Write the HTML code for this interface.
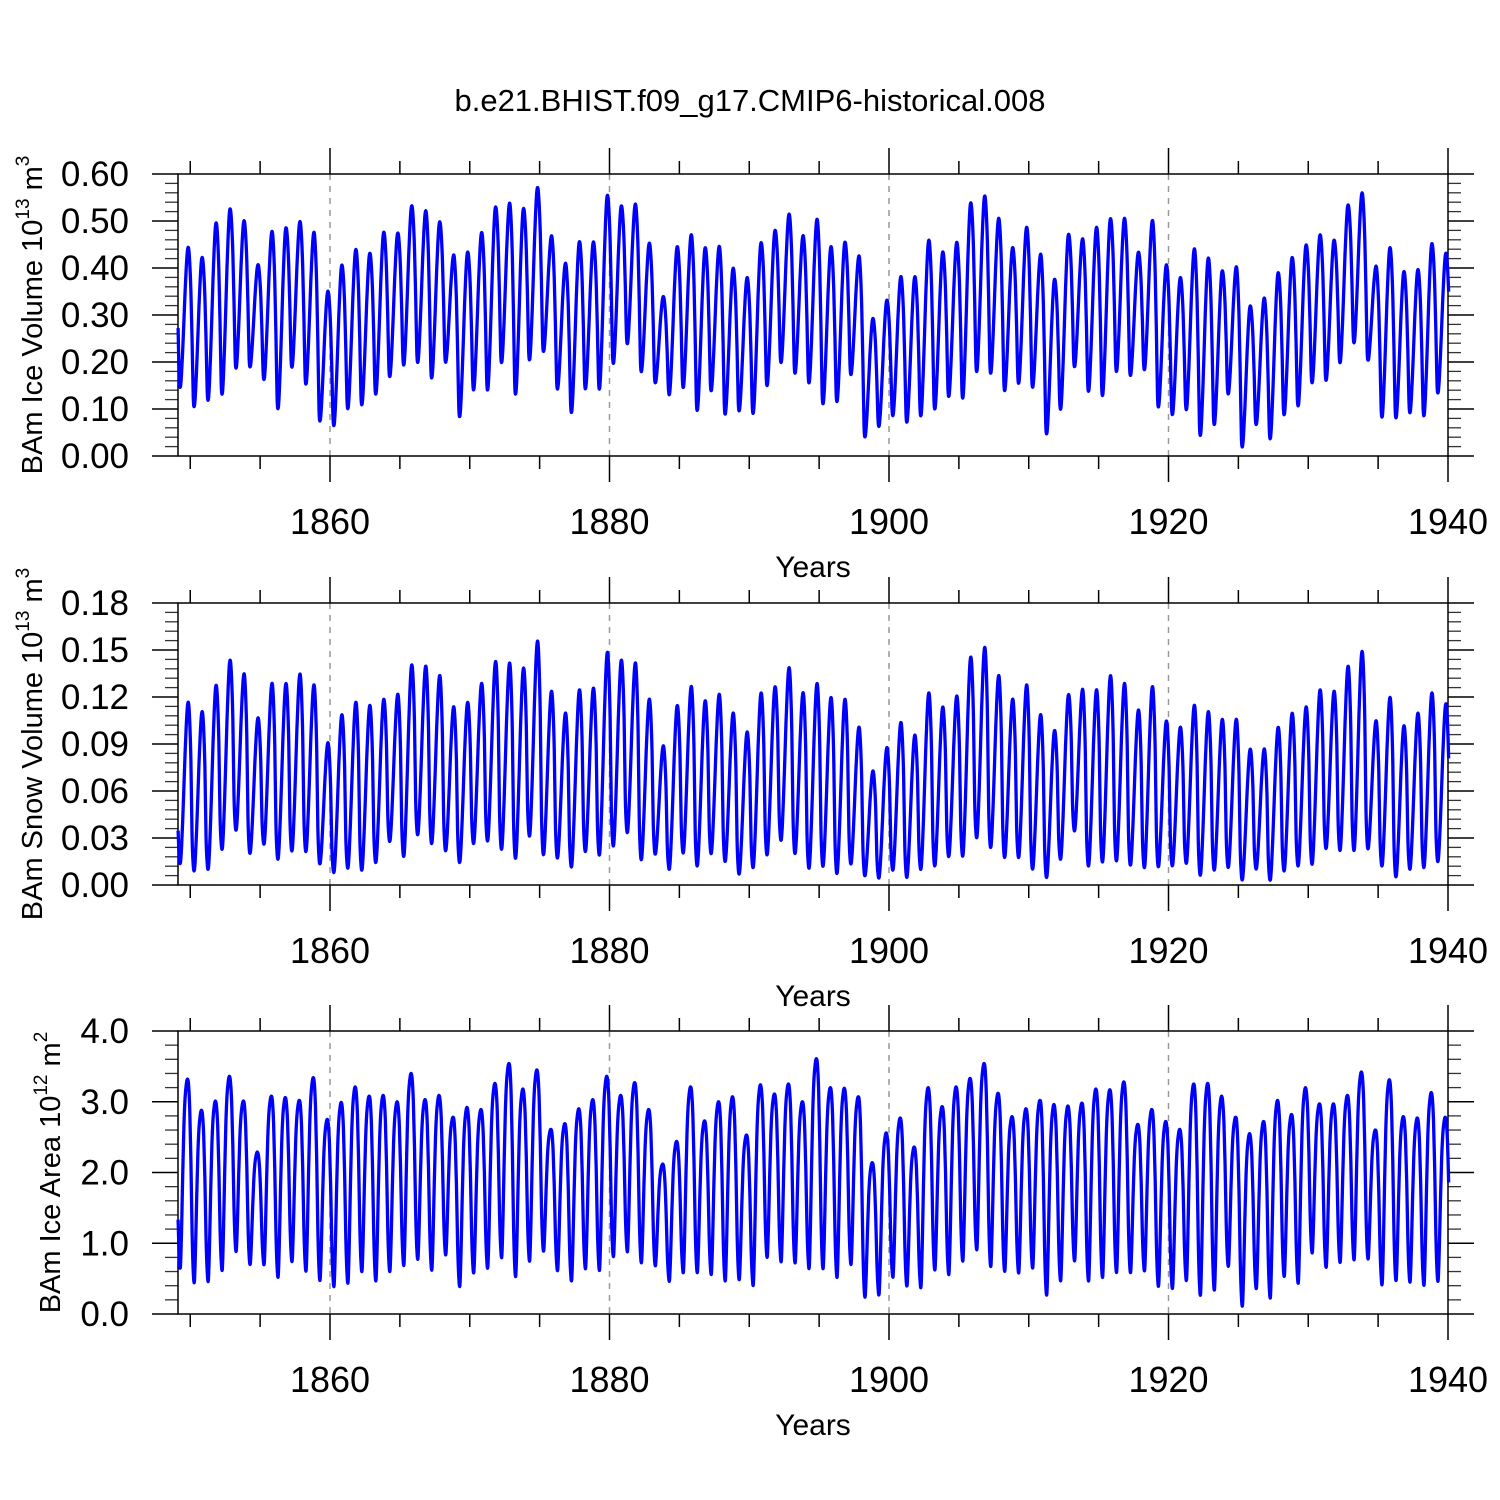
<!DOCTYPE html>
<html><head><meta charset="utf-8"><style>
html,body{margin:0;padding:0;background:#fff;}
svg{display:block;font-family:"Liberation Sans",sans-serif;}
</style></head><body>
<svg id="chart" width="1500" height="1500" viewBox="0 0 1500 1500">
<text x="750" y="111" font-size="31" text-anchor="middle">b.e21.BHIST.f09_g17.CMIP6-historical.008</text>
</svg>
<script>
// Years 1850..1940 (91 years)
const firstYear = 1850;
const xTickYears = [1860, 1880, 1900, 1920, 1940];
const xTickLabels = ["1860", "1880", "1900", "1920", "1940"];

// Panel 1: BAm Ice Volume (10^13 m^3) annual minima / maxima
const volMin = [.147,.106,.12,.133,.188,.19,.164,.102,.19,.154,.075,.066,.102,.11,.133,.17,.195,.2,.167,.2,.085,.142,.142,.2,.133,.206,.223,.143,.094,.144,.144,
.198,.24,.18,.156,.132,.147,.098,.14,.09,.097,.092,.151,.2,.177,.157,.112,.117,.174,.041,.064,.087,.073,.087,.101,.128,.125,.181,.177,.14,.156,
.147,.048,.101,.191,.139,.13,.181,.172,.185,.105,.089,.1,.045,.068,.133,.02,.068,.038,.089,.108,.157,.162,.2,.242,.204,.084,.082,.093,.087,.135];
const volMax = [.445,.424,.498,.528,.502,.408,.479,.488,.5,.477,.352,.408,.441,.433,.478,.476,.534,.523,.5,.428,.436,.477,.532,.539,.529,.573,.469,.411,.458,.457,.557,
.534,.537,.454,.34,.447,.472,.445,.447,.401,.381,.456,.482,.516,.47,.505,.447,.457,.426,.294,.333,.383,.383,.461,.436,.456,.541,.555,.507,.445,.488,
.43,.378,.474,.463,.488,.507,.507,.435,.502,.408,.381,.442,.423,.396,.403,.321,.337,.392,.424,.451,.472,.461,.536,.561,.404,.445,.394,.398,.454,.433];
const volTicks = [0, 0.1, 0.2, 0.3, 0.4, 0.5, 0.6];
const volTickLabels = ["0.00","0.10","0.20","0.30","0.40","0.50","0.60"];

// Panel 2: BAm Snow Volume (10^13 m^3), values in units of 0.01
const snowMin = [1.42,.95,1.06,2.34,3.55,2.06,2.66,1.7,2.23,2.19,1.38,.85,1.13,1.0,1.49,2.83,1.89,3.26,2.7,2.23,1.49,2.7,2.87,2.34,1.77,3.19,1.98,1.77,1.21,2.19,1.98,
2.55,3.4,1.66,2.0,1.06,2.1,1.27,2.06,1.55,.74,1.17,1.98,2.91,2.06,1.13,1.25,.79,1.38,.62,.49,1.0,.53,1.06,1.27,1.87,1.91,3.08,2.45,1.81,1.81,
1.06,.53,1.7,3.5,1.27,1.53,1.6,1.32,1.17,1.21,1.27,1.44,.68,1.0,1.17,.36,1.06,.36,.95,1.27,1.38,2.38,2.27,2.27,2.34,1.27,.57,1.06,1.17,1.55];
const snowMax = [11.7,11.1,12.8,14.4,13.5,10.7,12.9,12.9,13.5,12.8,9.1,10.9,11.7,11.5,11.9,12.2,14.1,14.0,13.4,11.4,11.7,12.9,14.3,14.2,13.9,15.6,12.4,11.0,12.5,12.6,14.9,
14.4,14.2,11.9,8.9,11.5,12.7,11.8,12.2,11.0,9.8,12.3,12.7,13.9,12.3,12.9,12.0,11.9,10.1,7.3,8.8,10.4,9.6,12.3,11.4,12.1,14.6,15.2,13.4,11.9,12.8,
10.9,9.9,12.2,12.5,12.5,13.4,12.9,11.2,12.7,10.5,10.1,11.5,11.1,10.6,10.6,8.7,8.7,10.1,11.0,11.4,12.5,12.4,14.0,14.95,10.5,12.0,10.2,11.0,12.3,11.6];
const snowTicks = [0, 0.03, 0.06, 0.09, 0.12, 0.15, 0.18];
const snowTickLabels = ["0.00","0.03","0.06","0.09","0.12","0.15","0.18"];

// Panel 3: BAm Ice Area (10^12 m^2)
const areaMin = [.67,.46,.48,.64,.9,.71,.72,.54,.76,.63,.49,.41,.46,.62,.49,.62,.71,.79,.64,.85,.41,.6,.67,.82,.55,.77,.9,.63,.49,.66,.64,
.83,.9,.74,.69,.48,.61,.6,.58,.49,.5,.43,.82,.76,.74,.67,.66,.54,.72,.25,.29,.54,.41,.4,.64,.58,.77,.93,.69,.62,.6,
.67,.29,.49,.77,.49,.54,.61,.6,.63,.41,.38,.5,.29,.36,.69,.13,.38,.25,.55,.46,.88,.68,.75,.79,.79,.44,.49,.47,.43,.48];
const areaMax = [3.32,2.88,3.01,3.36,3.01,2.29,3.08,3.06,3.02,3.34,2.75,2.99,3.21,3.08,3.09,3.0,3.4,3.03,3.09,2.78,2.92,2.89,3.26,3.54,3.18,3.45,2.61,2.69,2.9,3.03,3.36,
3.09,3.27,2.89,2.12,2.44,3.21,2.73,3.0,3.07,2.53,3.24,3.11,3.25,3.0,3.61,3.2,3.19,3.07,2.14,2.56,2.77,2.36,3.2,2.93,3.21,3.33,3.54,3.12,2.79,2.9,
3.02,2.96,2.94,2.98,3.18,3.17,3.28,2.68,2.89,2.72,2.61,3.25,3.26,3.08,2.78,2.55,2.72,3.02,2.82,3.2,2.97,2.97,3.09,3.42,2.6,3.31,2.79,2.77,3.13,2.78];
const areaTicks = [0, 1, 2, 3, 4];
const areaTickLabels = ["0.0","1.0","2.0","3.0","4.0"];

const NS = "http://www.w3.org/2000/svg";
const svg = document.getElementById("chart");
const FL = 178, FR = 1448;
function xScale(t){ return 330 + (t - 1860) * (FR - 330) / 80; }
function mk(tag, attrs, parent){
  const e = document.createElementNS(NS, tag);
  for (const k in attrs) e.setAttribute(k, attrs[k]);
  (parent || svg).appendChild(e);
  return e;
}
// seasonal shape fractions (shape only, not data)
const shapeVol = [0.42,0.06,0.0,0.1,0.27,0.47,0.68,0.85,0.97,0.99,0.9,0.72];
const shapeSnow = [0.2,0.03,0.0,0.1,0.27,0.47,0.68,0.85,0.97,0.99,0.88,0.65];
const shapeArea = [0.25,0.05,0.0,0.2,0.5,0.75,0.9,0.97,1.0,0.97,0.85,0.6];

function monthly(mins, maxs, shape){
  const pts = [];
  for (let i = 0; i < mins.length; i++){
    const mn = mins[i], mx = maxs[i];
    const pmx = i > 0 ? maxs[i-1] : mx;
    const nmn = i < mins.length - 1 ? mins[i+1] : mn;
    for (let m = 0; m < 12; m++){
      let v;
      if (m < 2) v = mn + shape[m] * (pmx - mn);
      else if (m < 10) v = mn + shape[m] * (mx - mn);
      else v = nmn + shape[m] * (mx - nmn);
      pts.push([firstYear + i - 0.87 + m / 12, v]);
    }
  }
  return pts;
}
function smoothPath(p){
  let d = "M" + p[0][0].toFixed(2) + "," + p[0][1].toFixed(2);
  for (let i = 0; i < p.length - 1; i++){
    const p0 = p[Math.max(0,i-1)], p1 = p[i], p2 = p[i+1], p3 = p[Math.min(p.length-1,i+2)];
    const c1x = p1[0] + (p2[0]-p0[0])/6, c1y = p1[1] + (p2[1]-p0[1])/6;
    const c2x = p2[0] - (p3[0]-p1[0])/6, c2y = p2[1] - (p3[1]-p1[1])/6;
    d += "C" + c1x.toFixed(2)+","+c1y.toFixed(2)+" "+c2x.toFixed(2)+","+c2y.toFixed(2)+" "+p2[0].toFixed(2)+","+p2[1].toFixed(2);
  }
  return d;
}

function panel(cfg){
  const g = mk("g", {});
  
  
  const top = cfg.top, bot = cfg.bot, ymax = cfg.ticks[cfg.ticks.length-1];
  const yS = v => bot - (v / ymax) * (bot - top);
  [1860,1880,1900,1920].forEach(yr => {
    const l = mk("line", {x1:xScale(yr), x2:xScale(yr), y1:top, y2:bot, stroke:"#999", "stroke-width":1.5, "stroke-dasharray":"6,6"}, g);
    
    
  });
  const nMinor = cfg.minorPer;
  for (let i = 0; i < cfg.ticks.length - 1; i++){
    for (let j = 1; j < nMinor; j++){
      const v = cfg.ticks[i] + (cfg.ticks[i+1]-cfg.ticks[i]) * j / nMinor;
      const y = yS(v);
      mk("line", {x1:FL-13, x2:FL, y1:y, y2:y, stroke:"#333", "stroke-width":1.3}, g);
      mk("line", {x1:FR, x2:FR+13, y1:y, y2:y, stroke:"#333", "stroke-width":1.3}, g);
    }
  }
  cfg.ticks.forEach((v, i) => {
    const y = yS(v);
    mk("line", {x1:FL-26, x2:FL, y1:y, y2:y, stroke:"#000", "stroke-width":1.5}, g);
    mk("line", {x1:FR, x2:FR+26, y1:y, y2:y, stroke:"#000", "stroke-width":1.5}, g);
    const t = mk("text", {x:129, y:y+12, "font-size":35, "text-anchor":"end"}, g);
    t.textContent = cfg.labels[i];
    
    
  });
  for (let yr = 1850; yr <= 1940; yr += 5){
    const x = xScale(yr);
    const major = xTickYears.indexOf(yr) >= 0;
    const L = major ? 26 : 13;
    mk("line", {x1:x, x2:x, y1:bot, y2:bot+L, stroke:"#000", "stroke-width":1.5}, g);
    mk("line", {x1:x, x2:x, y1:top-L, y2:top, stroke:"#000", "stroke-width":1.5}, g);
  }
  xTickYears.forEach((yr, i) => {
    const t = mk("text", {x:xScale(yr), y:bot+78, "font-size":36, "text-anchor":"middle"}, g);
    t.textContent = xTickLabels[i];
    
    
  });
  const xt = mk("text", {x:813, y:bot+121, "font-size":30, "text-anchor":"middle"}, g);
  xt.textContent = "Years";
  
  
  const fr = mk("rect", {x:FL, y:top, width:FR-FL, height:bot-top, fill:"none", stroke:"#000", "stroke-width":1.5}, g);
  
  
  const yt = mk("text", {transform:"translate("+cfg.titleX+","+((top+bot)/2)+") rotate(-90)", "font-size":29, "text-anchor":"middle"}, g);
  
  
  const a = document.createElementNS(NS, "tspan"); a.textContent = cfg.title + " 10"; yt.appendChild(a);
  const b = document.createElementNS(NS, "tspan"); b.setAttribute("dy", "-13"); b.setAttribute("font-size", "19"); b.textContent = cfg.exp; yt.appendChild(b);
  const c = document.createElementNS(NS, "tspan"); c.setAttribute("dy", "13"); c.textContent = " m"; yt.appendChild(c);
  const d = document.createElementNS(NS, "tspan"); d.setAttribute("dy", "-13"); d.setAttribute("font-size", "19"); d.textContent = cfg.unitExp; yt.appendChild(d);
  const pts = monthly(cfg.mins, cfg.maxs, cfg.shape).map(p => [xScale(p[0]), yS(p[1] * cfg.scale)]);
  const path = mk("path", {d:smoothPath(pts), fill:"none", stroke:"#0000ff", "stroke-width":3.3, "stroke-linejoin":"round"}, g);
  
  
}

panel({name:"ice-volume-panel", top:174, bot:456, ticks:volTicks, labels:volTickLabels, minorPer:5,
  mins:volMin, maxs:volMax, shape:shapeVol, scale:1, title:"BAm Ice Volume", exp:"13", unitExp:"3", titleX:42});
panel({name:"snow-volume-panel", top:603, bot:885, ticks:snowTicks, labels:snowTickLabels, minorPer:5,
  mins:snowMin, maxs:snowMax, shape:shapeSnow, scale:0.01, title:"BAm Snow Volume", exp:"13", unitExp:"3", titleX:42});
panel({name:"ice-area-panel", top:1031, bot:1314, ticks:areaTicks, labels:areaTickLabels, minorPer:5,
  mins:areaMin, maxs:areaMax, shape:shapeArea, scale:1, title:"BAm Ice Area", exp:"12", unitExp:"2", titleX:60});
</script>
</body></html>
